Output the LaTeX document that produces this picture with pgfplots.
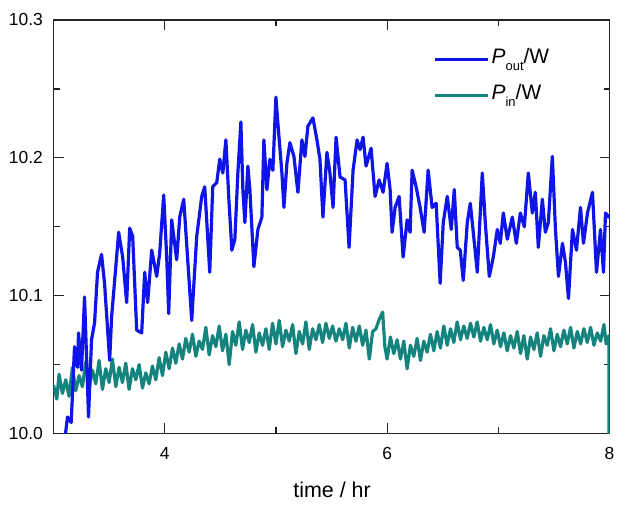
\documentclass[border=0pt]{standalone}
\usepackage{fontspec}
\setmainfont{Liberation Sans}
\usepackage{pgfplots}
\pgfplotsset{compat=1.18}
\usepackage{xcolor}
\definecolor{outblue}{RGB}{15,20,232}
\definecolor{inteal}{RGB}{22,132,126}
\definecolor{axisgray}{RGB}{35,35,35}

\begin{document}
\begin{tikzpicture}
\begin{axis}[
    scale only axis,
    width=556bp, height=413.5bp,
    xmin=3, xmax=8, ymin=10.0, ymax=10.3,
    xtick={4,6,8}, minor xtick={3,5,7},
    ytick={10.0,10.1,10.2,10.3}, minor ytick={10.05,10.15,10.25},
    tick align=inside,
    major tick length=10bp, minor tick length=6bp,
    axis line style={line width=1.4bp, axisgray},
    every tick/.style={line width=1.2bp, axisgray},
    /pgf/number format/assume math mode=true,
    ticklabel style={font=\fontsize{17.5}{17.5}\selectfont},
    xticklabel style={anchor=base, yshift=-25.5bp},
    yticklabel style={/pgf/number format/fixed, /pgf/number format/fixed zerofill,
                      /pgf/number format/precision=1,
                      anchor=east, inner xsep=0pt, xshift=-10.5bp},
    xlabel={time / hr},
    xlabel style={font=\fontsize{21.5}{21.5}\selectfont, at={(axis description cs:0.501,0)}, anchor=base, yshift=-63.5bp},
    legend image code/.code={\draw[#1, line width=3.2bp] (0bp,0bp) -- (53bp,0bp);},
    legend style={draw=none, fill=none, at={(axis description cs:0.683,0.935)}, anchor=north west,
                  font=\fontsize{21}{21}\selectfont, inner sep=0pt,
                  nodes={inner sep=2bp, text height=14bp, text depth=7bp},
                  row sep=11bp},
    legend cell align=left,
]

\addlegendimage{outblue}
\addlegendentry{\textit{P}\raisebox{-7.5bp}{\fontsize{13}{13}\selectfont out}/W}
\addlegendimage{inteal}
\addlegendentry{\textit{P}\raisebox{-7.5bp}{\fontsize{13}{13}\selectfont in}/W}

% --- P_in ---
\addplot[inteal, line width=3.2bp, line join=round, forget plot] coordinates {
(3.00,10.035) (3.03,10.025) (3.05,10.043) (3.08,10.029) (3.11,10.039) (3.14,10.027)
(3.17,10.048) (3.20,10.031) (3.23,10.042) (3.26,10.034) (3.29,10.052) (3.32,10.033)
(3.35,10.046) (3.38,10.036) (3.41,10.053) (3.44,10.032) (3.47,10.047) (3.50,10.037)
(3.53,10.054) (3.56,10.034) (3.59,10.048) (3.62,10.037) (3.65,10.051) (3.68,10.032)
(3.71,10.047) (3.74,10.039) (3.77,10.050) (3.80,10.033) (3.83,10.044) (3.86,10.036)
(3.89,10.049) (3.92,10.039) (3.95,10.055) (3.98,10.042) (4.01,10.059) (4.04,10.047)
(4.07,10.062) (4.10,10.051) (4.13,10.065) (4.16,10.054) (4.19,10.069) (4.22,10.059)
(4.25,10.072) (4.28,10.056) (4.31,10.067) (4.34,10.061) (4.37,10.077) (4.40,10.057)
(4.43,10.071) (4.46,10.063) (4.49,10.078) (4.52,10.060) (4.55,10.072) (4.58,10.050)
(4.61,10.074) (4.64,10.064) (4.67,10.081) (4.70,10.061) (4.73,10.075) (4.76,10.066)
(4.79,10.079) (4.82,10.059) (4.85,10.073) (4.88,10.064) (4.91,10.076) (4.94,10.061)
(4.97,10.080) (5.00,10.065) (5.03,10.082) (5.06,10.063) (5.09,10.075) (5.12,10.067)
(5.15,10.079) (5.18,10.058) (5.21,10.074) (5.24,10.065) (5.27,10.081) (5.30,10.061)
(5.33,10.076) (5.36,10.068) (5.39,10.079) (5.42,10.066) (5.45,10.080) (5.48,10.069)
(5.51,10.078) (5.54,10.067) (5.57,10.076) (5.60,10.068) (5.63,10.080) (5.66,10.062)
(5.69,10.077) (5.72,10.067) (5.75,10.078) (5.78,10.064) (5.81,10.075) (5.84,10.054)
(5.87,10.074) (5.90,10.076) (5.93,10.083) (5.96,10.088) (5.98,10.063) (6.00,10.054)
(6.03,10.070) (6.06,10.058) (6.09,10.068) (6.12,10.054) (6.15,10.067) (6.18,10.047)
(6.21,10.064) (6.24,10.056) (6.27,10.069) (6.30,10.053) (6.33,10.067) (6.36,10.059)
(6.39,10.072) (6.42,10.060) (6.45,10.074) (6.48,10.062) (6.51,10.078) (6.54,10.064)
(6.57,10.076) (6.60,10.066) (6.63,10.081) (6.66,10.068) (6.69,10.078) (6.72,10.069)
(6.75,10.080) (6.78,10.070) (6.81,10.081) (6.84,10.067) (6.87,10.077) (6.90,10.068)
(6.93,10.079) (6.96,10.065) (6.99,10.075) (7.02,10.063) (7.05,10.073) (7.08,10.060)
(7.11,10.071) (7.14,10.062) (7.17,10.074) (7.20,10.058) (7.23,10.071) (7.26,10.054)
(7.29,10.070) (7.32,10.061) (7.35,10.073) (7.38,10.056) (7.41,10.071) (7.44,10.064)
(7.47,10.076) (7.50,10.060) (7.53,10.072) (7.56,10.063) (7.59,10.075) (7.62,10.065)
(7.65,10.077) (7.68,10.062) (7.71,10.074) (7.74,10.065) (7.77,10.076) (7.80,10.066)
(7.83,10.077) (7.86,10.064) (7.89,10.073) (7.92,10.067) (7.95,10.079) (7.97,10.065)
(7.995,10.071) (7.995,10.000)
};

% --- P_out ---
\addplot[outblue, line width=3.2bp, line join=round, forget plot] coordinates {
(3.108,10.000) (3.126,10.012) (3.159,10.008) (3.171,10.029) (3.189,10.063) (3.216,10.048)
(3.225,10.073) (3.252,10.046) (3.279,10.099) (3.297,10.056) (3.315,10.012) (3.342,10.068)
(3.369,10.080) (3.396,10.117) (3.432,10.130) (3.459,10.109) (3.505,10.053) (3.523,10.085)
(3.550,10.111) (3.586,10.146) (3.622,10.128) (3.658,10.095) (3.685,10.149) (3.712,10.143)
(3.748,10.075) (3.793,10.073) (3.820,10.117) (3.847,10.095) (3.883,10.133) (3.928,10.114)
(3.955,10.131) (3.991,10.173) (4.018,10.128) (4.036,10.087) (4.063,10.155) (4.108,10.126)
(4.135,10.157) (4.171,10.170) (4.207,10.126) (4.243,10.082) (4.288,10.143) (4.333,10.172)
(4.360,10.179) (4.405,10.117) (4.432,10.179) (4.468,10.182) (4.495,10.199) (4.523,10.189)
(4.550,10.213) (4.577,10.170) (4.604,10.133) (4.631,10.141) (4.658,10.189) (4.685,10.226)
(4.703,10.177) (4.721,10.153) (4.748,10.194) (4.766,10.177) (4.802,10.121) (4.838,10.148)
(4.874,10.157) (4.892,10.213) (4.919,10.177) (4.946,10.199) (4.973,10.191) (5.000,10.244)
(5.018,10.225) (5.054,10.189) (5.072,10.164) (5.099,10.196) (5.126,10.211) (5.162,10.201)
(5.198,10.175) (5.234,10.213) (5.261,10.201) (5.288,10.223) (5.333,10.229) (5.369,10.213)
(5.396,10.199) (5.423,10.157) (5.459,10.204) (5.486,10.189) (5.514,10.164) (5.541,10.215)
(5.577,10.186) (5.622,10.184) (5.658,10.135) (5.694,10.191) (5.730,10.213) (5.757,10.206)
(5.784,10.215) (5.811,10.194) (5.856,10.207) (5.892,10.172) (5.928,10.184) (5.964,10.175)
(6.000,10.196) (6.027,10.177) (6.045,10.146) (6.072,10.164) (6.108,10.172) (6.144,10.128)
(6.180,10.155) (6.207,10.146) (6.225,10.191) (6.261,10.179) (6.297,10.164) (6.333,10.146)
(6.369,10.191) (6.405,10.164) (6.441,10.167) (6.477,10.109) (6.505,10.153) (6.541,10.172)
(6.577,10.148) (6.604,10.177) (6.631,10.135) (6.658,10.133) (6.685,10.111) (6.721,10.153)
(6.748,10.167) (6.775,10.146) (6.811,10.117) (6.856,10.189) (6.883,10.153) (6.919,10.114)
(6.955,10.128) (6.991,10.148) (7.018,10.138) (7.045,10.160) (7.081,10.141) (7.126,10.157)
(7.162,10.138) (7.198,10.160) (7.234,10.150) (7.270,10.189) (7.306,10.160) (7.333,10.175)
(7.360,10.135) (7.396,10.170) (7.423,10.146) (7.450,10.153) (7.486,10.201) (7.514,10.148)
(7.541,10.114) (7.577,10.138) (7.604,10.124) (7.631,10.098) (7.667,10.148) (7.703,10.133)
(7.739,10.164) (7.766,10.138) (7.802,10.160) (7.847,10.175) (7.883,10.117) (7.919,10.148)
(7.946,10.117) (7.964,10.160) (7.991,10.157) (8.000,10.159)
};

\end{axis}
\pgfresetboundingbox
\path (current axis.south west) +(-53.5bp,-76.5bp) (current axis.north east) +(16.5bp,20bp);
\end{tikzpicture}
\end{document}
